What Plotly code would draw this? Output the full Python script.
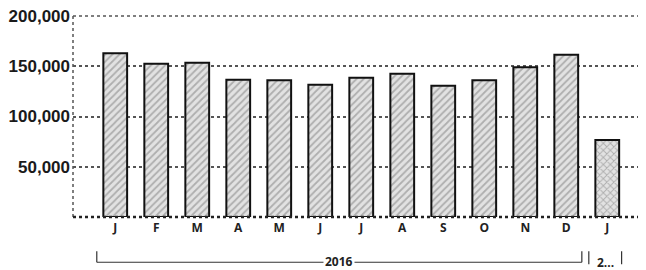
import plotly.graph_objects as go

months = ["J", "F", "M", "A", "M", "J", "J", "A", "S", "O", "N", "D", "J"]
years = ["2016"] * 12 + ["2017"]
values = [163000, 152500, 153500, 136500, 136000, 131500, 138500, 142500, 130500, 136000, 149000, 161500, 76500]
y_ticks = [50000, 100000, 150000, 200000]
y_tick_labels = ["50,000", "100,000", "150,000", "200,000"]
group_labels = ["2016", "2..."]

x_idx = list(range(len(months)))
patterns = ["/" if y == "2016" else "x" for y in years]

fig = go.Figure()
fig.add_trace(go.Bar(
    x=x_idx, y=values, width=0.58,
    marker=dict(color="#dcdcdc",
                line=dict(color="#111", width=2),
                pattern=dict(shape=patterns, fgcolor="#7a7a7a", bgcolor="#e2e2e2",
                             size=5, solidity=0.35)),
    showlegend=False,
))

# dotted frame lines (left axis, top, x axis)
fig.add_shape(type="line", xref="paper", yref="paper", x0=0, x1=0, y0=0, y1=1,
              line=dict(color="#555", width=1.5, dash="dot"))
fig.add_shape(type="line", xref="paper", yref="paper", x0=0, x1=1, y0=1, y1=1,
              line=dict(color="#555", width=1.5, dash="dot"))
fig.add_shape(type="line", xref="paper", yref="paper", x0=0, x1=1, y0=0, y1=0,
              line=dict(color="#222", width=2.5, dash="dot"))

# group brackets below axis
n16 = years.count("2016")
bx0, bx1 = -0.45, n16 - 1 + 0.38
cx0, cx1 = n16 - 1 + 0.55, n16 + 0.35
bracket_style = dict(color="#333", width=1.2)
fig.add_shape(type="line", xref="x", yref="paper", x0=bx0, x1=bx1, y0=-0.225, y1=-0.225, line=bracket_style)
fig.add_shape(type="line", xref="x", yref="paper", x0=bx0, x1=bx0, y0=-0.225, y1=-0.17, line=bracket_style)
fig.add_shape(type="line", xref="x", yref="paper", x0=bx1, x1=bx1, y0=-0.225, y1=-0.17, line=bracket_style)
for xv in (cx0, cx1):
    fig.add_shape(type="line", xref="x", yref="paper", x0=xv, x1=xv, y0=-0.235, y1=-0.17, line=bracket_style)

fig.add_annotation(x=(bx0 + bx1) / 2, y=-0.222, xref="x", yref="paper", text=group_labels[0],
                   showarrow=False, bgcolor="white", borderpad=1, yanchor="middle",
                   font=dict(family="Open Sans", size=12, color="#222", weight="bold"))
fig.add_annotation(x=(cx0 + cx1) / 2, y=-0.225, xref="x", yref="paper", text=group_labels[1],
                   showarrow=False, yanchor="middle",
                   font=dict(family="Open Sans", size=12, color="#222", weight="bold"))

fig.update_xaxes(
    range=[-1.03, 13.14], tickmode="array", tickvals=x_idx, ticktext=months,
    showgrid=False, zeroline=False, showline=False, ticks="", automargin=False,
    tickfont=dict(family="Open Sans", size=12, color="#222", weight="bold"),
    ticklabelstandoff=2,
)
fig.update_yaxes(
    range=[0, 200000], tickvals=y_ticks, ticktext=y_tick_labels,
    showgrid=True, gridcolor="#555", griddash="dot", gridwidth=1.5,
    zeroline=False, showline=False, ticks="", automargin=False,
    ticklabeloverflow="allow",
    tickfont=dict(family="Liberation Sans", size=17, color="#1a1a1a", weight="bold"),
    ticklabelstandoff=2,
)
fig.update_layout(
    width=646, height=270,
    margin=dict(l=65, r=0, t=8, b=61),
    paper_bgcolor="white", plot_bgcolor="white",
    bargap=0.4,
)
fig.write_html("out.html")
